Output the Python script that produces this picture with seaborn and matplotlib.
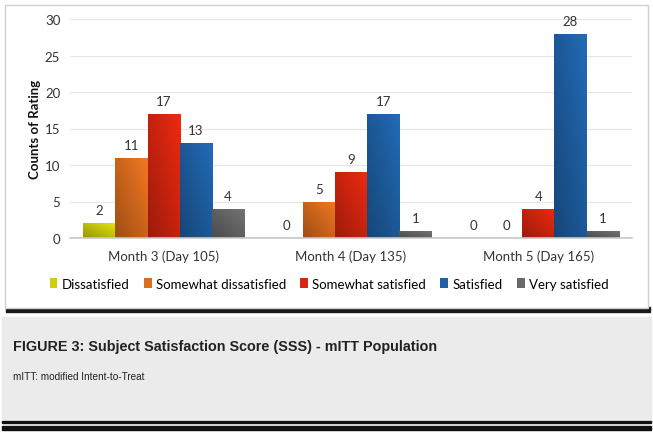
import numpy as np
import pandas as pd
import seaborn as sns
import matplotlib
import matplotlib.pyplot as plt
from matplotlib.colors import to_rgb
from matplotlib.patches import Rectangle, Patch

matplotlib.use('Agg')

# Chart data
months = ['Month 3 (Day 105)', 'Month 4 (Day 135)', 'Month 5 (Day 165)']
ratings = ['Dissatisfied', 'Somewhat dissatisfied', 'Somewhat satisfied', 'Satisfied', 'Very satisfied']
dissatisfied = [2, 0, 0]
somewhat_dissatisfied = [11, 5, 0]
somewhat_satisfied = [17, 9, 4]
satisfied = [13, 17, 28]
very_satisfied = [4, 1, 1]
y_ticks = [0, 5, 10, 15, 20, 25, 30]

colors = ['#cfcf0c', '#dc6d1e', '#d9260f', '#1f61a6', '#696969']

# Build long table for seaborn
counts = [dissatisfied, somewhat_dissatisfied, somewhat_satisfied, satisfied, very_satisfied]
rows = []
for rating, vals in zip(ratings, counts):
    for month, v in zip(months, vals):
        rows.append({'month': month, 'rating': rating, 'count': v})
df = pd.DataFrame(rows)

W, H = 653, 439
fig = plt.figure(figsize=(W / 100, H / 100), dpi=100)
fig.patch.set_facecolor('white')

# chart panel with shadow, caption box
fig.patches.append(Rectangle((6 / W, 1 - 313 / H), 644 / W, 5 / H, transform=fig.transFigure,
                             color='#1a1a1a', zorder=0))
fig.patches.append(Rectangle((5 / W, 1 - 309 / H), 643 / W, 303 / H, transform=fig.transFigure,
                             facecolor='white', edgecolor='#d0d0d0', lw=1, zorder=1))
fig.patches.append(Rectangle((2 / W, 1 - 420 / H), 649 / W, 102 / H, transform=fig.transFigure,
                             color='#ebebeb', zorder=0))
fig.patches.append(Rectangle((2 / W, 1 - 424 / H), 649 / W, 2 / H, transform=fig.transFigure,
                             color='#111111', zorder=0))
fig.patches.append(Rectangle((2 / W, 1 - 431 / H), 649 / W, 4 / H, transform=fig.transFigure,
                             color='#111111', zorder=0))

ax = fig.add_axes([70 / W, 1 - 239 / H, 562 / W, 219 / H])
ax.set_facecolor('none')
ax.set_zorder(2)

sns.barplot(data=df, x='month', y='count', hue='rating', order=months, hue_order=ratings,
            palette=colors, width=0.86, gap=0, saturation=1, ax=ax, legend=False)

ax.set_ylim(0, 30)
ax.set_xlim(-0.5, 2.5)

# diagonal shading on each bar, like the office-style gradient fill
gx, gy = np.meshgrid(np.linspace(0, 1, 20), np.linspace(0, 1, 60))
shade = 0.5 * gx + 0.5 * (1 - gy)
for c, col in zip(ax.containers, colors):
    base = np.array(to_rgb(col))
    for bar in c:
        if bar.get_height() <= 0:
            continue
        img = base[None, None, :] * (0.72 + 0.38 * shade[:, :, None])
        img = np.clip(img, 0, 1)
        x0, y0 = bar.get_x(), bar.get_y()
        im = ax.imshow(img, extent=[x0, x0 + bar.get_width(), y0, y0 + bar.get_height()],
                       aspect='auto', origin='upper', zorder=bar.get_zorder() + 0.1, interpolation='bilinear')
        im.set_clip_path(bar)

for c in ax.containers:
    ax.bar_label(c, padding=5, fontsize=9.5, color='#333333', family='Lato')

ax.set_ylim(0, 30)
ax.set_xlim(-0.5, 2.5)
ax.set_yticks(y_ticks)
ax.grid(axis='y', color='#e6e6e6', lw=0.8)
ax.set_axisbelow(True)
for s in ['top', 'right', 'left']:
    ax.spines[s].set_visible(False)
ax.spines['bottom'].set_color('#c8c8c8')
ax.spines['bottom'].set_linewidth(1.2)
ax.tick_params(axis='both', length=0, labelsize=9.5, colors='#333333', pad=8)
for lab in ax.get_xticklabels() + ax.get_yticklabels():
    lab.set_family('Lato')
ax.tick_params(axis='y', pad=7)
ax.set_xlabel('')
ax.set_ylabel('Counts of Rating', fontsize=9.5, fontweight='bold', family='Lato', color='#111111', labelpad=3)

handles = [Patch(facecolor=c, edgecolor='none') for c in colors]
fig.legend(handles, ratings, loc='center', bbox_to_anchor=(329 / W, 1 - 285 / H), ncol=5,
           frameon=False, handlelength=0.6, handleheight=0.8, handletextpad=0.3, columnspacing=1.1,
           prop={'family': 'Lato', 'size': 9.5})

fig.text(13 / W, 1 - 347 / H, 'FIGURE 3: Subject Satisfaction Score (SSS) - mITT Population',
         family='Liberation Sans', fontweight='bold', fontsize=10.4,
         color='#222222', va='center')
fig.text(13 / W, 1 - 377 / H, 'mITT: modified Intent-to-Treat',
         family='Liberation Sans', fontsize=7.2, color='#222222', va='center')

fig.savefig('out.png', dpi=100)
plt.close(fig)
